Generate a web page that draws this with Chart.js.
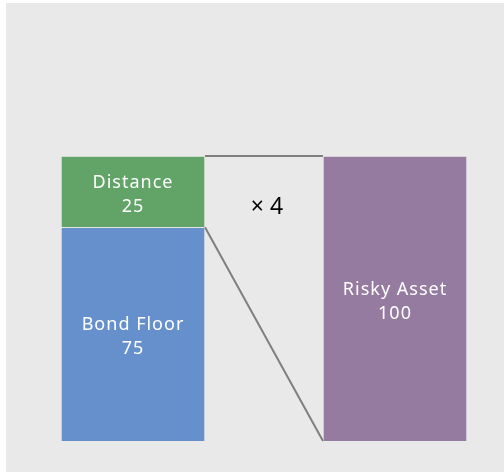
<!DOCTYPE html>
<html>
<head>
<meta charset="utf-8">
<script src="https://cdn.jsdelivr.net/npm/chart.js@4"></script>
<style>
  body { margin: 0; background: #ffffff; }
  #wrap { position: absolute; left: 6px; top: 3px; width: 498px; height: 469px; background: #e9e9e9; }
</style>
</head>
<body>
<div id="wrap"><canvas id="grafico"></canvas></div>
<script>
// Dados do gráfico
var nomes = ['Bond Floor', 'Distance', 'Risky Asset'];
var valores = [75, 25, 100];
var posicoes = [0, 0, 1];        // 0 = coluna da esquerda, 1 = coluna da direita
var cores = ['#6690cb', '#62a467', '#967ba1'];
var multiplicador = '× 4';
var alturaMultiplicador = 82;    // nível (em valor) onde fica o "× 4"

var datasets = nomes.map(function (nome, i) {
    return {
        label: nome,
        data: [{ x: posicoes[i], y: valores[i] }],
        backgroundColor: cores[i],
        borderColor: 'rgba(255, 255, 255, 0.3)',
        borderWidth: 1,
        barThickness: 144
    };
});

// Rótulos dentro das barras, linhas de ligação e o multiplicador
var desenhos = {
    id: 'desenhos',
    afterDatasetsDraw: function (chart) {
        var ctx = chart.ctx;
        var floor = chart.getDatasetMeta(0).data[0];
        var dist = chart.getDatasetMeta(1).data[0];
        var risky = chart.getDatasetMeta(2).data[0];

        ctx.save();
        // linhas cinzas
        ctx.strokeStyle = '#7f7f7f';
        ctx.lineWidth = 2;
        ctx.beginPath();
        ctx.moveTo(dist.x + dist.width / 2, dist.y);
        ctx.lineTo(risky.x - risky.width / 2, risky.y);
        ctx.moveTo(floor.x + floor.width / 2, floor.y);
        ctx.lineTo(risky.x - risky.width / 2, risky.base);
        ctx.stroke();

        // textos das barras
        ctx.fillStyle = '#ffffff';
        ctx.font = '18px "Noto Sans", sans-serif';
        ctx.letterSpacing = '1px';
        ctx.textAlign = 'center';
        ctx.textBaseline = 'middle';
        chart.data.datasets.forEach(function (ds, i) {
            var bar = chart.getDatasetMeta(i).data[0];
            var cy = (bar.y + bar.base) / 2 + 3;
            ctx.fillText(ds.label, bar.x, cy - 12);
            ctx.fillText(String(valores[i]), bar.x, cy + 12);
        });

        // multiplicador
        var mx = ((dist.x + dist.width / 2) + (risky.x - risky.width / 2)) / 2 + 3;
        var my = chart.scales.y.getPixelForValue(alturaMultiplicador);
        ctx.fillStyle = '#000000';
        ctx.letterSpacing = '0px';
        ctx.font = '23px "Noto Sans", sans-serif';
        ctx.fillText(multiplicador, mx, my);
        ctx.restore();
    }
};

var ctx = document.getElementById('grafico');

var myChart = new Chart(ctx, {
    type: 'bar',
    data: { datasets: datasets },
    plugins: [desenhos],
    options: {
        responsive: true,
        maintainAspectRatio: false,
        animation: false,
        layout: { padding: 0 },
        scales: {
            x: {
                type: 'linear',
                display: false,
                stacked: true,
                offset: false,
                min: -0.4847,
                max: 1.4160
            },
            y: {
                display: false,
                stacked: true,
                min: -10.88,
                max: 153.68
            }
        },
        plugins: {
            legend: { display: false },
            tooltip: { enabled: false }
        }
    }
});
</script>
</body>
</html>
